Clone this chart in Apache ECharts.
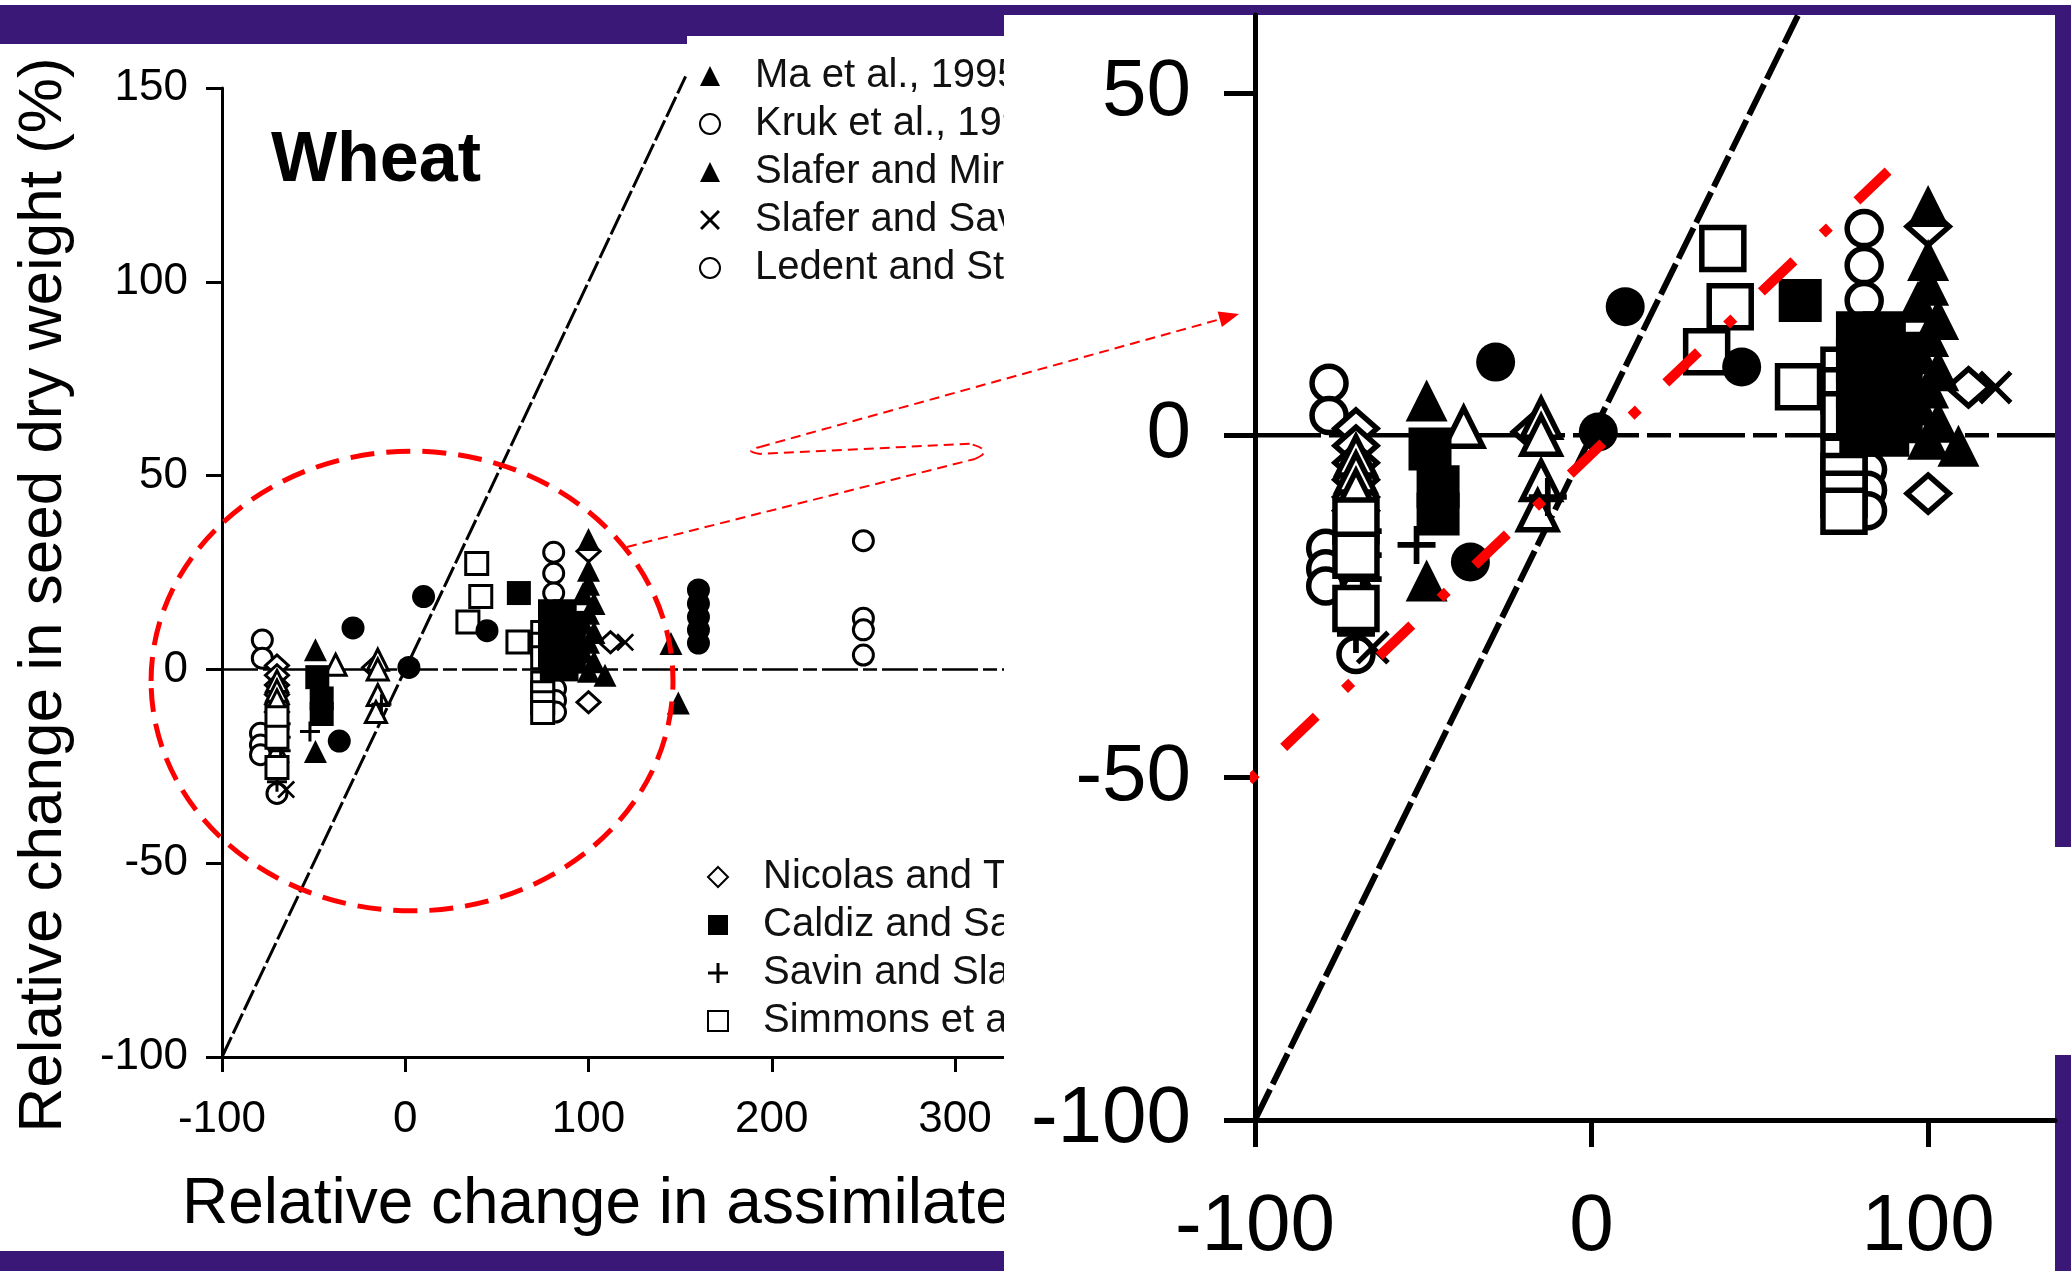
<!DOCTYPE html>
<html>
<head>
<meta charset="utf-8">
<script src="https://cdn.jsdelivr.net/npm/echarts@6/dist/echarts.min.js"></script>
<style>
html,body{margin:0;padding:0;background:#3a1878;}
#c{width:2071px;height:1271px;}
</style>
</head>
<body>
<div id="c"></div>
<script>
// ---------------- data ----------------
const xTicksLeft = [-100, 0, 100, 200, 300];
const yTicksLeft = [-100, -50, 0, 50, 100, 150];
const xTicksRight = [-100, 0, 100];
const yTicksRight = [-100, -50, 0, 50];

const maEtAl = [[-49,5.1],[-49,-21.2],[145,6.7],[149,-8.7]];
const krukEtAl = [[-78,7.6],[-78,2.9],[81,30.2],[81,24.8],[81,19.7],[250,33.2],[250,13.2],[250,10.2],[250,3.7]];
const slaferMiralles = [[100,33.5],[100,25.6],[100,22],[97,19.5],[103,17],[100,14.5],[97,12],[103,9.5],[100,7],[97,4.5],[103,2],[100,-0.5],[109,-1.5]];
const slaferSavin = [[120,7],[-65,-31]];
const ledentStoy = [[-79,-16.5],[-79,-19.5],[-79,-22],[-70,-32],[82,-5],[82,-8],[82,-11]];
const nicolasTurner = [[-70,1],[-70,-1.5],[-70,-4],[-70,-6.5],[-70,-9],[-70,-11],[-17,0.5],[100,30.5],[100,-8.5],[112,7]];
const caldizSarandon = [[-48,-2],[-45.6,-7.5],[-45.6,-11.5],[62,19.7],[79,15],[87,15],[79,11],[87,11],[79,7],[87,7],[79,3.5],[87,3.5],[80,0],[88,0],[92,12],[92,7],[92,2]];
const savinSlafer = [[-52,-16],[-68,-14],[-68,-17.5],[-68,-21],[-70,-29],[-13,-9]];
const simmonsEtAl = [[-70,-12.5],[-70,-17.5],[-70,-25.3],[34.2,12.2],[39,27.3],[41.2,18.8],[61.5,7.1],[75,9.5],[75,6.5],[75,3],[75,-3.5],[75,-6],[75,-8.6],[75,-11.1]];
const otherFilledCircles = [[-28.5,10.7],[-36,-18.5],[2,0.5],[10,18.8],[44.6,10],[160,20.5],[160,17],[160,13.5],[160,10.2],[160,6.8]];
const otherOpenTriangles = [[-38,1.2],[-15,2.5],[-15,0],[-70,-3],[-70,-5.5],[-70,-8],[-70,-21],[-15,-6.6],[-16,-11]];

const oneToOneLeft = [[-100,-100],[153,153]];
const oneToOneRight = [[-100,-100],[61.3,61.3]];
const zeroLineLeft = [[-100,0],[400,0]];
const zeroLineRight = [[-100,0],[137.7,0]];
const redFit = [[-101.8,-50.4],[88.1,38.6]];

// annotation (left chart data units)
const circleCenter = [3.7, -3.0];
const circleRadius = [142.4, 59.3];
const loopPts = [[121,31.6],[310.9,54.3],[322,56.5],[308,58.2],[193.6,55.6],[183.8,56.3],[193.6,57.4],[455,91.7]];

const namesTop = ['Ma et al., 1995','Kruk et al., 1997','Slafer and Miralles, 1992','Slafer and Savin, 1994','Ledent and Stoy, 1988'];
const namesBottom = ['Nicolas and Turner, 1993','Caldiz and Sarandon, 1988','Savin and Slafer, 1991','Simmons et al., 1982'];

// ---------------- styling ----------------
const FONT = '"Liberation Sans", Arial, Helvetica, sans-serif';
const XPATH = 'path://M0,2.1L2.1,0L10,7.9L17.9,0L20,2.1L12.1,10L20,17.9L17.9,20L10,12.1L2.1,20L0,17.9L7.9,10Z';
const PLUSPATH = 'path://M8.5,0h3v8.5h8.5v3h-8.5v8.5h-3v-8.5h-8.5v-3h8.5Z';
const KINDS = {
  filledTri:   {symbol:'triangle', sL:23, sR:42},
  openTri:     {symbol:'triangle', sL:21, sR:38, open:true},
  openCircle:  {symbol:'circle', sL:20, sR:34, open:true},
  filledCircle:{symbol:'circle', sL:23, sR:39},
  openDiamond: {symbol:'diamond', sL:[23,21], sR:[42,37], open:true},
  filledSquare:{symbol:'rect', sL:24, sR:43},
  openSquare:  {symbol:'rect', sL:22, sR:42, open:true},
  cross:       {symbol:XPATH, sL:18, sR:34},
  plus:        {symbol:PLUSPATH, sL:20, sR:38}
};
const seriesDefs = [
  ['Ledent and Stoy, 1988', ledentStoy, 'openCircle'],
  ['Kruk et al., 1997', krukEtAl, 'openCircle'],
  ['Nicolas and Turner, 1993', nicolasTurner, 'openDiamond'],
  ['open triangles', otherOpenTriangles, 'openTri'],
  ['Savin and Slafer, 1991', savinSlafer, 'plus'],
  ['Slafer and Savin, 1994', slaferSavin, 'cross'],
  ['Simmons et al., 1982', simmonsEtAl, 'openSquare'],
  ['Caldiz and Sarandon, 1988', caldizSarandon, 'filledSquare'],
  ['filled circles', otherFilledCircles, 'filledCircle'],
  ['Ma et al., 1995', maEtAl, 'filledTri'],
  ['Slafer and Miralles, 1992', slaferMiralles, 'filledTri']
];

function scat(name, data, kind, side) {
  const k = KINDS[kind];
  const L = side === 'L';
  return {
    type:'scatter', name:name, data:data,
    xAxisIndex: L?0:1, yAxisIndex: L?0:1,
    symbol:k.symbol, symbolSize: L?k.sL:k.sR,
    itemStyle: k.open ? {color:'#ffffff', borderColor:'#000', borderWidth: L?3:5.5, opacity:1}
                      : {color:'#000', borderWidth:0, opacity:1},
    z: L?2:7, silent:true, emphasis:{disabled:true}
  };
}
function lineS(data, side, ls, z) {
  const L = side === 'L';
  return {type:'line', data:data, xAxisIndex:L?0:1, yAxisIndex:L?0:1, symbol:'none', showSymbol:false,
    lineStyle:ls, clip:false, z:z, silent:true, emphasis:{disabled:true}};
}

const series = [];
series.push(lineS(zeroLineLeft,'L',{color:'#000', width:2.5, type:[36,5,14,5]},2));
series.push(lineS(oneToOneLeft,'L',{color:'#000', width:3, type:[22,4]},2));
seriesDefs.forEach(d => series.push(scat(d[0], d[1], d[2], 'L')));
series.push(lineS(zeroLineRight,'R',{color:'#000', width:4.5, type:[66,8,24,8]},7));
series.push(Object.assign(lineS(oneToOneRight,'R',{color:'#000', width:6, type:[34,6]},7),{clip:true}));
seriesDefs.forEach(d => series.push(scat(d[0], d[1], d[2], 'R')));
series.push(lineS(redFit,'R',{color:'#ff0000', width:10, type:[10,38,45,39], dashOffset:0, cap:'butt'},8));

function axisCommon(width, len, fs, margin, custom) {
  return {
    type:'value',
    axisLine:{show:true, onZero:false, lineStyle:{color:'#000', width:width}},
    axisTick:{show:true, length:len, customValues:custom, lineStyle:{color:'#000', width:width}},
    axisLabel:{show:true, fontSize:fs, color:'#000', margin:margin, fontFamily:FONT, customValues:custom},
    splitLine:{show:false}
  };
}

const legendBase = {
  orient:'vertical', itemWidth:20, itemHeight:20, itemGap:8, padding:0,
  selectedMode:false, z:3,
  textStyle:{fontSize:40, lineHeight:40, color:'#111', fontFamily:FONT, padding:[0,0,0,30]}
};

const panels = [
  {id:'bgTop', type:'rect', z:-20, shape:{x:0,y:0,width:2071,height:5}, style:{fill:'#ffffff'}},
  {id:'leftPanel', type:'rect', z:-10, shape:{x:0,y:44,width:1004,height:1207}, style:{fill:'#ffffff'}},
  {id:'leftPanel2', type:'rect', z:-10, shape:{x:687,y:36,width:317,height:10}, style:{fill:'#ffffff'}},
  {id:'rightPanel', type:'rect', z:5, shape:{x:1004,y:15,width:1051,height:1256}, style:{fill:'#ffffff'}},
  {id:'rightTab', type:'rect', z:5, shape:{x:2055,y:847,width:16,height:208}, style:{fill:'#ffffff'}},
  {id:'wheat', type:'text', z:3, x:271, y:162, style:{text:'Wheat', fontSize:70, fontWeight:'bold', fontFamily:FONT, fill:'#000', textAlign:'left', align:'left', textVerticalAlign:'middle', verticalAlign:'middle'}},
  {id:'ytitle', type:'text', z:3, x:44, y:595, rotation:Math.PI/2, style:{text:'Relative change in seed dry weight (%)', fontSize:62, fontFamily:FONT, fill:'#000', textAlign:'center', align:'center', textVerticalAlign:'middle', verticalAlign:'middle'}},
  {id:'xtitle', type:'text', z:3, x:182, y:1205, style:{text:'Relative change in assimilate availability (%)', fontSize:64, fontFamily:FONT, fill:'#000', textAlign:'left', align:'left', textVerticalAlign:'middle', verticalAlign:'middle'}}
];

const option = {
  animation:false,
  backgroundColor:'transparent',
  textStyle:{fontFamily:FONT},
  tooltip:{show:false},
  grid:[
    {left:222, top:88, width:916.25, height:969, containLabel:false, outerBoundsMode:'none', z:0},
    {left:1255, top:15, width:800, height:1105, containLabel:false, outerBoundsMode:'none', z:6}
  ],
  xAxis:[
    Object.assign(axisCommon(3,15,44,41,xTicksLeft.concat([400])), {gridIndex:0, min:-100, max:400, interval:100, z:0}),
    Object.assign(axisCommon(5,27,80,68,xTicksRight), {gridIndex:1, min:-100, max:137.7, interval:100, z:6})
  ],
  yAxis:[
    Object.assign(axisCommon(3,16,44,34,yTicksLeft), {gridIndex:0, min:-100, max:150, interval:50, z:0}),
    Object.assign(axisCommon(5,31,80,64,yTicksRight), {gridIndex:1, min:-100, max:61.4, interval:50, z:6})
  ],
  legend:[
    Object.assign({}, legendBase, {data:namesTop, left:699, top:56}),
    Object.assign({}, legendBase, {data:namesBottom, left:707, top:857})
  ],
  graphic:{elements:panels},
  series:series
};

const chart = echarts.init(document.getElementById('c'), null, {renderer:'canvas', width:2071, height:1271});
chart.setOption(option);

// annotations positioned through the left chart's scales
const px = p => chart.convertToPixel({gridIndex:0}, p);
const c0 = px(circleCenter);
const cx1 = px([circleCenter[0] + circleRadius[0], circleCenter[1]]);
const cy1 = px([circleCenter[0], circleCenter[1] + circleRadius[1]]);
const P = loopPts.map(px);
const thin = {stroke:'#ff0000', lineWidth:2, lineDash:[10,6], fill:null};
const D = P[7], C2 = P[6];
const dx = D[0]-C2[0], dy = D[1]-C2[1], dl = Math.sqrt(dx*dx+dy*dy);
const ux = dx/dl, uy = dy/dl;
const bx = D[0]-20*ux, by = D[1]-20*uy;
const ann = [
  {id:'circ', type:'ellipse', z:3, shape:{cx:c0[0], cy:c0[1], rx:Math.abs(cx1[0]-c0[0]), ry:Math.abs(cy1[1]-c0[1])},
   style:{stroke:'#ff0000', lineWidth:5, lineDash:[24,12], fill:null}},
  {id:'l1', type:'polyline', z:8, shape:{points:[P[0],P[1]]}, style:thin},
  {id:'b1', type:'bezierCurve', z:8, shape:{x1:P[1][0],y1:P[1][1],cpx1:P[2][0],cpy1:P[2][1],x2:P[3][0],y2:P[3][1]}, style:thin},
  {id:'l2', type:'polyline', z:8, shape:{points:[P[3],P[4]]}, style:thin},
  {id:'b2', type:'bezierCurve', z:8, shape:{x1:P[4][0],y1:P[4][1],cpx1:P[5][0],cpy1:P[5][1],x2:P[6][0],y2:P[6][1]}, style:thin},
  {id:'l3', type:'polyline', z:8, shape:{points:[P[6],[bx,by]]}, style:thin},
  {id:'head', type:'polygon', z:8, shape:{points:[D,[bx-8*uy, by+8*ux],[bx+8*uy, by-8*ux]]}, style:{fill:'#ff0000'}}
];
chart.setOption({graphic:{elements:panels.concat(ann)}});
</script>
</body>
</html>
